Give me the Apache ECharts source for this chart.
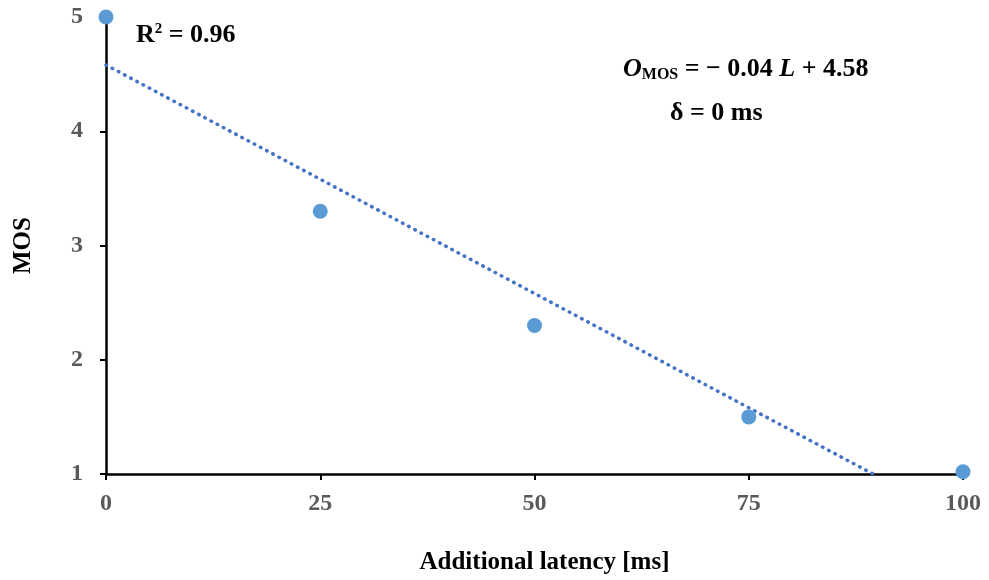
<!DOCTYPE html>
<html>
<head>
<meta charset="utf-8">
<script src="https://cdn.jsdelivr.net/npm/echarts@6/dist/echarts.min.js"></script>
<style>
  html, body { margin: 0; padding: 0; background: #fff; }
  #chart { width: 989px; height: 580px; }
</style>
</head>
<body>
<div id="chart"></div>
<script>
// measured points
const latency = [0, 25, 50, 75, 100];
const mos = [5.0, 3.3, 2.3, 1.5, 1.02];

// linear trend line ends (O = -0.04 L + 4.58), cut at the x axis
const trendX = [0, 89.5];
const trendY = [4.58, 1.0];

const xTicks = [0, 25, 50, 75, 100];
const yTicks = [1, 2, 3, 4, 5];

const serif = "'Liberation Serif', 'DejaVu Serif', serif";

let myChart = echarts.init(document.getElementById("chart"));
let option;

option = {
  animation: false,
  textStyle: { fontFamily: serif },
  grid: { left: 106, right: 26, top: 17, bottom: 105 },
  xAxis: {
    type: "value",
    min: xTicks[0],
    max: xTicks[xTicks.length - 1],
    interval: 25,
    name: "Additional latency [ms]",
    nameLocation: "middle",
    nameGap: 76,
    nameTextStyle: { fontFamily: serif, fontWeight: "bold", fontSize: 25, color: "#000", padding: [0, 0, 0, 20] },
    axisLine: { lineStyle: { color: "#000", width: 2.5 } },
    axisTick: { show: true, length: 6, lineStyle: { color: "#000", width: 2 } },
    axisLabel: { fontFamily: serif, fontWeight: "bold", fontSize: 24, color: "#595959", margin: 18 },
    splitLine: { show: false }
  },
  yAxis: {
    type: "value",
    min: yTicks[0],
    max: yTicks[yTicks.length - 1],
    interval: 1,
    name: "MOS",
    nameLocation: "middle",
    nameGap: 70,
    nameRotate: 90,
    nameTextStyle: { fontFamily: serif, fontWeight: "bold", fontSize: 25, color: "#000" },
    axisLine: { show: true, lineStyle: { color: "#000", width: 2.5 } },
    axisTick: { show: true, length: 6, lineStyle: { color: "#000", width: 2 } },
    axisLabel: { fontFamily: serif, fontWeight: "bold", fontSize: 24, color: "#595959", margin: 23 },
    splitLine: { show: false }
  },
  series: [
    {
      type: "line",
      data: trendX.map((x, i) => [x, trendY[i]]),
      symbol: "none",
      lineStyle: { color: "#4472C4", width: 3.5, type: [0.5, 6.5], cap: "round" },
      z: 2
    },
    {
      type: "scatter",
      data: latency.map((x, i) => [x, mos[i]]),
      symbolSize: 15,
      itemStyle: { color: "#5B9BD5", opacity: 1 },
      clip: false,
      z: 3
    }
  ],
  graphic: [
    {
      type: "text",
      left: 136,
      top: 22,
      style: {
        text: "{b|R}{sup|2}{b| = 0.96}",
        rich: {
          b: { fontFamily: serif, fontWeight: "bold", fontSize: 26, fill: "#000" },
          sup: { fontFamily: serif, fontWeight: "bold", fontSize: 15, fill: "#000", verticalAlign: "top", padding: [0, 0, 12, 0] }
        }
      }
    },
    {
      type: "text",
      left: 623,
      top: 56,
      style: {
        text: "{i|O}{sub|MOS}{b| = − 0.04 }{i|L}{b| + 4.58}",
        rich: {
          b: { fontFamily: serif, fontWeight: "bold", fontSize: 26, fill: "#000" },
          i: { fontFamily: serif, fontWeight: "bold", fontStyle: "italic", fontSize: 26, fill: "#000" },
          sub: { fontFamily: serif, fontWeight: "bold", fontSize: 16, fill: "#000", padding: [12, 0, 0, 0] }
        }
      }
    },
    {
      type: "text",
      left: 670,
      top: 100,
      style: {
        text: "δ = 0 ms",
        fontFamily: serif,
        fontWeight: "bold",
        fontSize: 26,
        fill: "#000"
      }
    }
  ]
};

option && myChart.setOption(option);
</script>
</body>
</html>
